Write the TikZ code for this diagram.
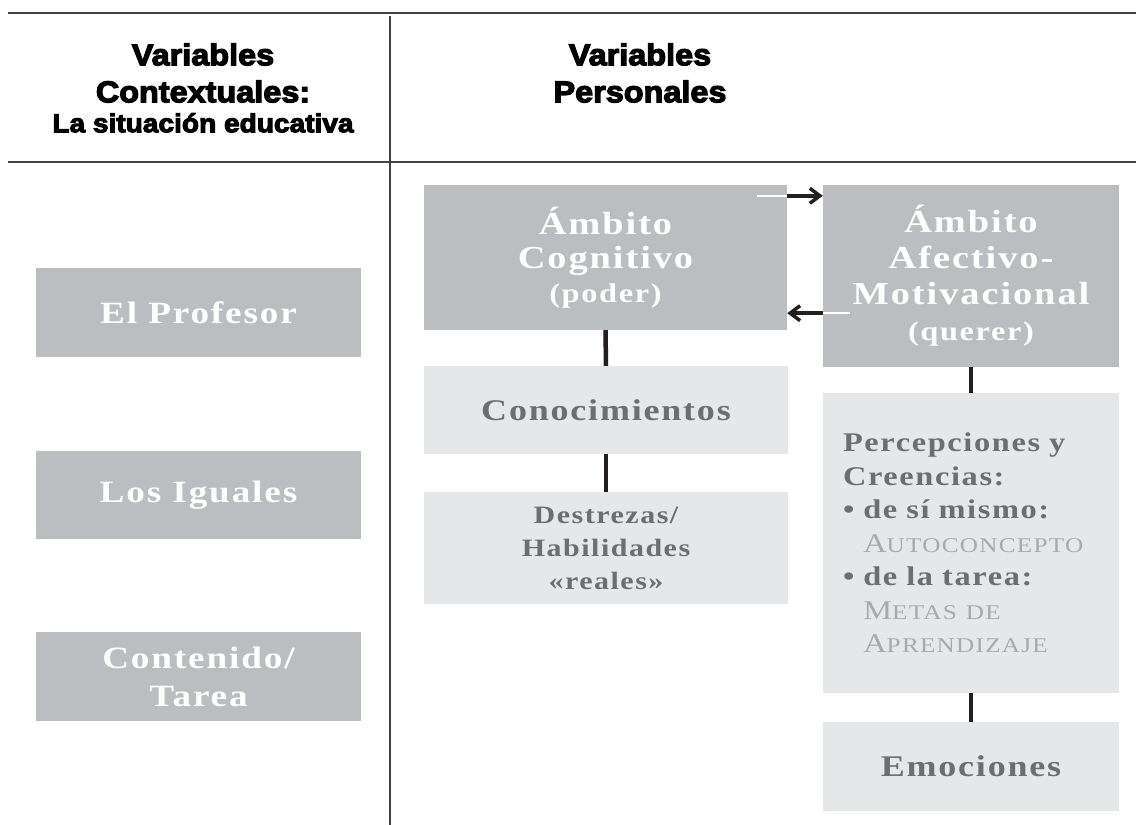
\documentclass[tikz,border=0pt]{standalone}
\usepackage{fontspec}
\setmainfont{Liberation Serif}[FakeStretch=1.2,LetterSpace=6]
\newfontfamily\titulo{Liberation Sans}[FakeStretch=1.08,FakeBold=4]
\usetikzlibrary{arrows.meta}
\definecolor{oscuro}{HTML}{BCBDC0}
\definecolor{claro}{HTML}{E6E7E8}
\definecolor{letra}{HTML}{6D6E71}
\definecolor{tenue}{HTML}{A7A9AC}
\definecolor{linea}{HTML}{231F20}
\newcommand{\versalita}[2]{{\mdseries\color{tenue}#1\fontsize{21}{21}\selectfont #2}}
\newcommand{\sangria}{\hphantom{\textbullet\ }}

\begin{document}
\begin{tikzpicture}[
		x=1pt,y=-1pt,
		caja/.style={inner sep=0pt,align=center},
		oscura/.style={caja,fill=oscuro,text=white},
		clara/.style={caja,fill=claro,text=letra},
		cabecera/.style={align=center,text=black,font=\titulo\bfseries\fontsize{30}{37}\selectfont},
		borde/.style={draw=linea!85,line width=1.6pt},
		enlace/.style={draw=linea,line width=4.5pt},
		flecha/.style={draw=linea,line width=3.5pt,-{Straight Barb[length=10pt,width=15pt]}},
		tramo/.style={draw=white,line width=2.5pt}
		]
		\useasboundingbox (0,0) rectangle (1136,825);
		\fill[white] (0,0) rectangle (1136,825);
		
		\coordinate (arribaI) at (8,13);
		\coordinate (arribaD) at (1136,13);
		\coordinate (medioI) at (8,162);
		\coordinate (medioD) at (1136,162);
		\coordinate (colA) at (390,16);
		\coordinate (colB) at (390,825);
		\draw[borde] (arribaI) -- (arribaD);
		\draw[borde] (medioI) -- (medioD);
		\draw[borde] (colA) -- (colB);
		
		\node[cabecera] (contexto) at (203,88) {Variables\\Contextuales:\\[-7pt]{\fontsize{26}{30}\selectfont La situación educativa}};
		\node[cabecera] (personal) at (640,73) {Variables\\Personales};
		
		\node[oscura,minimum width=325,minimum height=89,font=\bfseries\fontsize{31}{38}\selectfont] (profesor) at (198.5,312.5) {El Profesor};
		\node[oscura,minimum width=325,minimum height=88,font=\bfseries\fontsize{31}{38}\selectfont] (iguales) at (198.5,495) {Los Iguales};
		\node[oscura,minimum width=325,minimum height=89,font=\bfseries\fontsize{31}{38}\selectfont] (contenido) at (198.5,676.5) {Contenido/\\Tarea};
		
		\node[oscura,minimum width=363,minimum height=145,font=\bfseries\fontsize{32}{34}\selectfont] (cognitivo) at (605.5,257.5) {Ámbito\\Cognitivo\\{\fontsize{27}{30}\selectfont (poder)}};
		\node[oscura,minimum width=296,minimum height=182,font=\bfseries\fontsize{32}{36}\selectfont] (afectivo) at (971,276) {Ámbito\\Afectivo-\\Motivacional\\{\fontsize{27}{30}\selectfont (querer)}};
		
		\node[clara,minimum width=364,minimum height=88,font=\bfseries\fontsize{30}{34}\selectfont] (conocer) at (606,410) {Conocimientos};
		\node[clara,minimum width=364,minimum height=112,font=\bfseries\fontsize{25}{33}\selectfont] (destrezas) at (606,548) {Destrezas/\\Habilidades\\«reales»};
		\node[clara,inner xsep=20pt,text width=256,minimum height=300,align=left,font=\bfseries\fontsize{27}{33.5}\selectfont] (creencias) at (971,543) {Percepciones y\\Creencias:\\\textbullet\ de sí mismo:\\\sangria\versalita{A}{UTOCONCEPTO}\\\textbullet\ de la tarea:\\\sangria\versalita{M}{ETAS DE}\\\sangria\versalita{A}{PRENDIZAJE}};
		\node[clara,minimum width=296,minimum height=89,font=\bfseries\fontsize{30}{34}\selectfont] (emociones) at (971,766.5) {Emociones};
		
		\draw[enlace] (cognitivo.south) -- (conocer.north);
		\draw[enlace] (conocer.south) -- (destrezas.north);
		\draw[enlace] (afectivo.south) -- (creencias.north);
		\draw[enlace] (creencias.south) -- (emociones.north);
		
		\draw[tramo] ([yshift=-11pt]cognitivo.north east) -- ++(-30,0);
		\draw[flecha] ([yshift=-11pt]cognitivo.north east) -- ([yshift=-11pt]afectivo.north west);
		\draw[tramo] ([yshift=17pt]afectivo.west |- cognitivo.south) -- ++(27,0);
		\draw[flecha] ([yshift=17pt]afectivo.west |- cognitivo.south) -- ([yshift=17pt]cognitivo.south east);
		\end{tikzpicture}
\end{document}
